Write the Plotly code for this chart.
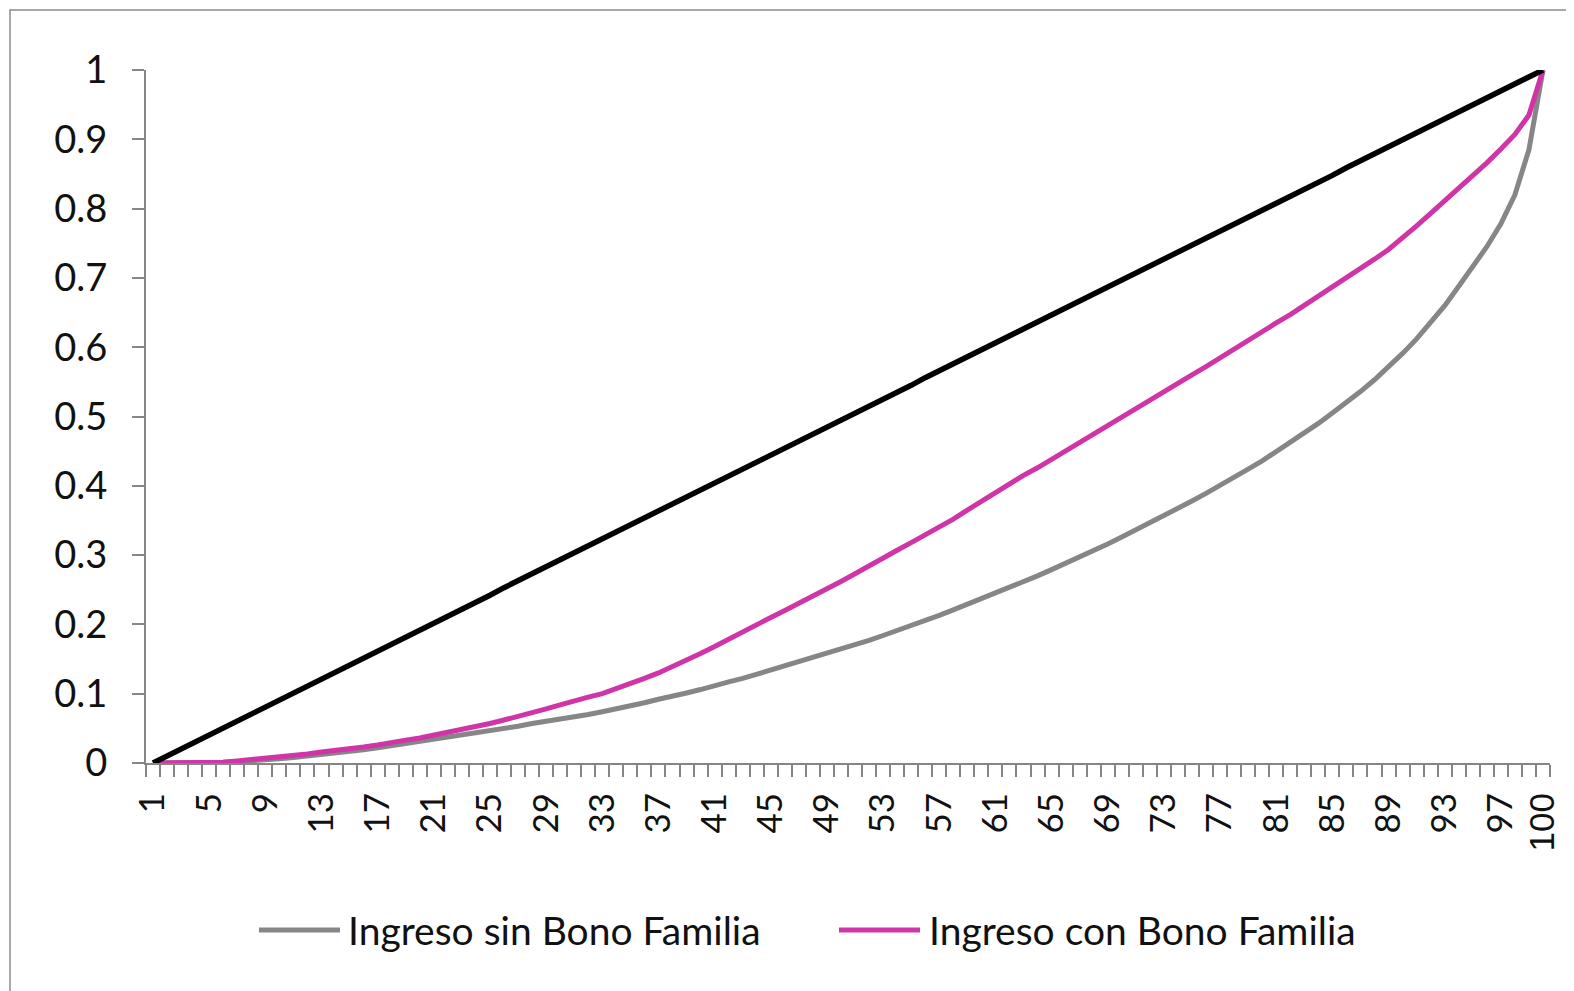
import plotly.graph_objects as go

# Percentiles (categories)
percentiles = list(range(1, 101))

# Equality line
igualdad = [0.000, 0.010, 0.020, 0.030, 0.040, 0.051, 0.061, 0.071, 0.081, 0.091,
            0.101, 0.111, 0.121, 0.131, 0.141, 0.152, 0.162, 0.172, 0.182, 0.192,
            0.202, 0.212, 0.222, 0.232, 0.242, 0.253, 0.263, 0.273, 0.283, 0.293,
            0.303, 0.313, 0.323, 0.333, 0.343, 0.354, 0.364, 0.374, 0.384, 0.394,
            0.404, 0.414, 0.424, 0.434, 0.444, 0.455, 0.465, 0.475, 0.485, 0.495,
            0.505, 0.515, 0.525, 0.535, 0.545, 0.556, 0.566, 0.576, 0.586, 0.596,
            0.606, 0.616, 0.626, 0.636, 0.646, 0.657, 0.667, 0.677, 0.687, 0.697,
            0.707, 0.717, 0.727, 0.737, 0.747, 0.758, 0.768, 0.778, 0.788, 0.798,
            0.808, 0.818, 0.828, 0.838, 0.848, 0.859, 0.869, 0.879, 0.889, 0.899,
            0.909, 0.919, 0.929, 0.939, 0.949, 0.960, 0.970, 0.980, 0.990, 1.000]

# Ingreso sin Bono Familia
sin_bono = [0.000, 0.000, 0.000, 0.000, 0.000, 0.001, 0.002, 0.003, 0.004, 0.006,
            0.008, 0.010, 0.012, 0.014, 0.017, 0.019, 0.022, 0.025, 0.028, 0.031,
            0.034, 0.037, 0.040, 0.043, 0.046, 0.050, 0.053, 0.057, 0.060, 0.063,
            0.066, 0.070, 0.074, 0.078, 0.083, 0.087, 0.092, 0.096, 0.101, 0.106,
            0.112, 0.117, 0.122, 0.128, 0.134, 0.140, 0.146, 0.152, 0.158, 0.164,
            0.171, 0.177, 0.184, 0.191, 0.198, 0.205, 0.213, 0.221, 0.229, 0.237,
            0.245, 0.253, 0.262, 0.270, 0.279, 0.288, 0.297, 0.306, 0.316, 0.326,
            0.336, 0.346, 0.356, 0.367, 0.378, 0.389, 0.400, 0.412, 0.424, 0.436,
            0.449, 0.462, 0.476, 0.490, 0.505, 0.520, 0.536, 0.553, 0.571, 0.591,
            0.612, 0.635, 0.660, 0.688, 0.716, 0.745, 0.778, 0.820, 0.885, 1.000]

# Ingreso con Bono Familia
con_bono = [0.000, 0.000, 0.000, 0.000, 0.000, 0.001, 0.003, 0.005, 0.007, 0.008,
            0.010, 0.013, 0.016, 0.018, 0.020, 0.023, 0.026, 0.030, 0.033, 0.036,
            0.040, 0.044, 0.048, 0.052, 0.057, 0.062, 0.067, 0.072, 0.078, 0.084,
            0.090, 0.095, 0.100, 0.107, 0.114, 0.122, 0.130, 0.139, 0.148, 0.158,
            0.168, 0.179, 0.190, 0.200, 0.210, 0.220, 0.230, 0.241, 0.252, 0.262,
            0.273, 0.285, 0.296, 0.307, 0.318, 0.329, 0.340, 0.352, 0.365, 0.378,
            0.390, 0.402, 0.415, 0.426, 0.438, 0.450, 0.462, 0.474, 0.486, 0.498,
            0.510, 0.522, 0.535, 0.547, 0.560, 0.572, 0.585, 0.597, 0.610, 0.622,
            0.635, 0.647, 0.660, 0.673, 0.686, 0.699, 0.713, 0.727, 0.741, 0.757,
            0.775, 0.793, 0.811, 0.829, 0.847, 0.866, 0.886, 0.907, 0.935, 1.000]

x_tick_vals = list(range(1, 98, 4)) + [100]
x_tick_text = [str(v) for v in range(1, 98, 4)] + [
    '<span style="font-family:Liberation Sans;font-size:35px">100</span>']
y_tick_vals = [0, 0.1, 0.2, 0.3, 0.4, 0.5, 0.6, 0.7, 0.8, 0.9, 1]
y_tick_text = ["0", "0.1", "0.2", "0.3", "0.4", "0.5", "0.6", "0.7", "0.8", "0.9", "1"]

series_names = ["Ingreso sin Bono Familia", "Ingreso con Bono Familia"]
GRAY = "#868686"
PINK = "#D035A8"
AXIS = "#868686"
TXT = "#111111"

fig = go.Figure()
fig.add_trace(go.Scatter(x=percentiles, y=sin_bono, mode="lines", name=series_names[0],
                         line=dict(color=GRAY, width=5), showlegend=False))
fig.add_trace(go.Scatter(x=percentiles, y=con_bono, mode="lines", name=series_names[1],
                         line=dict(color=PINK, width=5), showlegend=False))
fig.add_trace(go.Scatter(x=percentiles, y=igualdad, mode="lines", name="Igualdad",
                         line=dict(color="#000000", width=5.5), showlegend=False))

# page body margin offset (browser default 8px)
O = 8
W, H = 1574 - O, 991 - O
L, T = 146 - O, 70 - O
R = W - (1550 - O)
B = H - (763 - O)
pw, ph = W - L - R, H - T - B

def px(x):
    return (x - O - L) / pw

def py(y):
    return (H - B - (y - O)) / ph

shapes = [
    dict(type="rect", xref="paper", yref="paper", x0=px(10), y0=py(1010), x1=px(1600), y1=py(10),
         line=dict(color="#8c8c8c", width=1.5), fillcolor="rgba(0,0,0,0)", layer="below"),
    dict(type="line", xref="paper", yref="paper", x0=px(259), x1=px(340), y0=py(930), y1=py(930),
         line=dict(color=GRAY, width=5)),
    dict(type="line", xref="paper", yref="paper", x0=px(839), x1=px(920), y0=py(930), y1=py(930),
         line=dict(color=PINK, width=5)),
]
annotations = [
    dict(text=series_names[0], xref="paper", yref="paper", x=px(346), y=py(930),
         xanchor="left", yanchor="middle", showarrow=False,
         font=dict(family="Lato", size=39, color=TXT)),
    dict(text=series_names[1], xref="paper", yref="paper", x=px(927), y=py(930),
         xanchor="left", yanchor="middle", showarrow=False,
         font=dict(family="Lato", size=39, color=TXT)),
]

fig.update_layout(
    width=W, height=H,
    margin=dict(l=L, r=R, t=T, b=B, pad=0, autoexpand=False),
    paper_bgcolor="white", plot_bgcolor="white",
    shapes=shapes, annotations=annotations,
    showlegend=False,
    xaxis=dict(range=[0.5, 100.5], tickmode="array", tickvals=x_tick_vals, ticktext=x_tick_text,
               tickangle=-90, ticks="", ticklen=0, ticklabelstandoff=14, automargin=False,
               showline=True, linecolor=AXIS, linewidth=2, showgrid=False, zeroline=False,
               tickfont=dict(family="Lato", size=35, color=TXT),
               minor=dict(ticks="outside", tick0=0.5, dtick=1, ticklen=12, tickwidth=1.5,
                          tickcolor=AXIS, showgrid=False)),
    yaxis=dict(range=[0, 1], tickmode="array", tickvals=y_tick_vals, ticktext=y_tick_text,
               ticks="outside", ticklen=12, tickwidth=1.5, tickcolor=AXIS, automargin=False,
               showline=True, linecolor=AXIS, linewidth=2, showgrid=False, zeroline=False,
               ticklabelstandoff=17,
               tickfont=dict(family="Lato", size=38, color=TXT)),
)

fig.write_html("out.html")
